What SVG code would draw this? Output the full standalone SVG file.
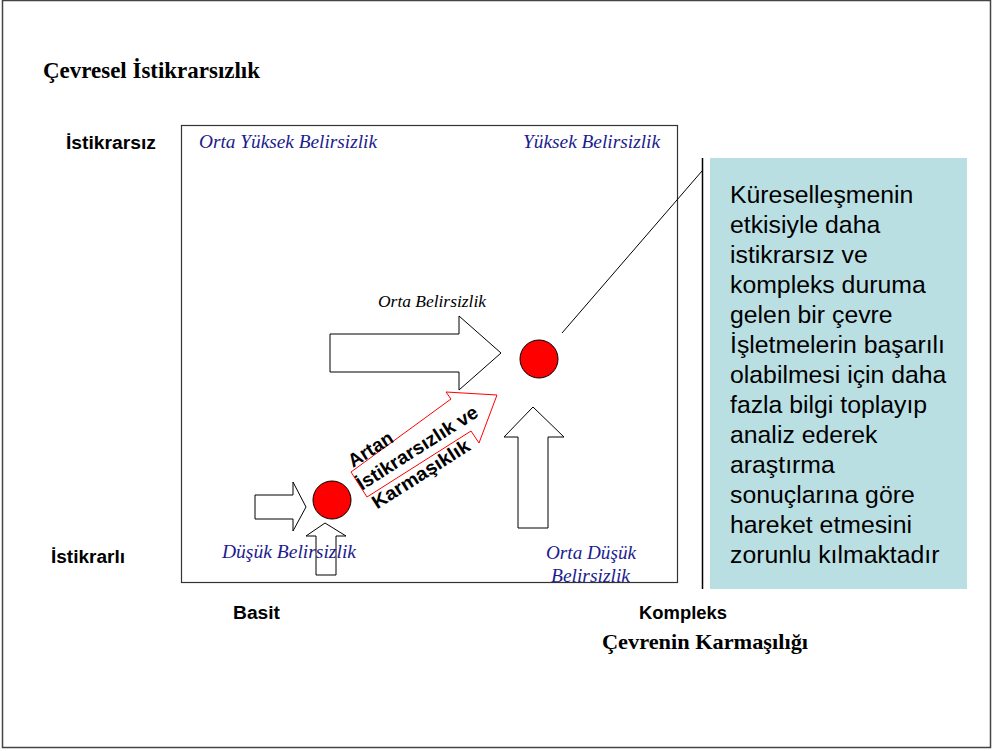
<svg xmlns="http://www.w3.org/2000/svg" width="993" height="751" viewBox="0 0 993 751">
<style>
.ser{font-family:"Liberation Serif","Times New Roman",serif}
.sans{font-family:"Liberation Sans",Arial,sans-serif}
.tb{font-weight:bold;fill:#000}
.lab{font-style:italic;fill:#1C1C8E;font-size:19px}
.arr{fill:#fff;stroke:#000;stroke-width:1}
.dot{fill:#f00;stroke:#000;stroke-width:1}
.call{font-size:24.8px;fill:#000}
</style>
<rect x="0" y="0" width="993" height="751" fill="#fff"/>
<rect x="2.5" y="0.5" width="988" height="747" fill="none" stroke="#444" stroke-width="1.5"/>

<g id="title">
<text class="ser tb" x="43" y="78" font-size="23" textLength="217" lengthAdjust="spacingAndGlyphs">Çevresel İstikrarsızlık</text>
</g>

<g id="matrix">
<rect x="181.5" y="125.5" width="496" height="457" fill="#fff" stroke="#333" stroke-width="1.2"/>
</g>

<g id="axis-labels">
<text class="sans tb" x="66" y="149" font-size="18" textLength="90" lengthAdjust="spacingAndGlyphs">İstikrarsız</text>
<text class="sans tb" x="51" y="563" font-size="18" textLength="74" lengthAdjust="spacingAndGlyphs">İstikrarlı</text>
<text class="sans tb" x="233" y="619" font-size="18" textLength="47" lengthAdjust="spacingAndGlyphs">Basit</text>
<text class="sans tb" x="639" y="619" font-size="18" textLength="88" lengthAdjust="spacingAndGlyphs">Kompleks</text>
<text class="ser tb" x="602" y="649" font-size="22" textLength="206" lengthAdjust="spacingAndGlyphs">Çevrenin Karmaşılığı</text>
</g>

<g id="connectors">
<polygon class="arr" points="330,334 459,334 459,316 501,353 459,390 459,372 330,372"/>
<polygon class="arr" points="518,528 518,437 504,437 533,407 564,437 548,437 548,528"/>
<polygon class="arr" points="255,495 293,495 293,482 306,507 293,531 293,519 255,519"/>
<polygon class="arr" points="316,575 316,536 306,536 325,523 346,536 336,536 336,575"/>
<polygon points="351,472 451,399 446,392 497,395 479,443 471,431 367,497" fill="#fff" stroke="#f00" stroke-width="1"/>
<line x1="562" y1="333" x2="702" y2="171" stroke="#000" stroke-width="1"/>
<line x1="702.5" y1="158" x2="702.5" y2="589" stroke="#000" stroke-width="1.5"/>
</g>

<g id="quadrant-labels">
<text class="ser lab" x="199" y="148" textLength="178" lengthAdjust="spacingAndGlyphs">Orta Yüksek Belirsizlik</text>
<text class="ser lab" x="523" y="148" textLength="137" lengthAdjust="spacingAndGlyphs">Yüksek Belirsizlik</text>
<text class="ser lab" x="222" y="558" textLength="134" lengthAdjust="spacingAndGlyphs">Düşük Belirsizlik</text>
<text class="ser lab" x="546" y="559" textLength="90" lengthAdjust="spacingAndGlyphs">Orta Düşük</text>
<text class="ser lab" x="551" y="582" textLength="79" lengthAdjust="spacingAndGlyphs">Belirsizlik</text>
<text class="ser" x="378" y="307" font-size="16" font-style="italic" fill="#000" textLength="108" lengthAdjust="spacingAndGlyphs">Orta Belirsizlik</text>
</g>

<g id="arrow-label" transform="translate(353,468) rotate(-32.5)">
<text class="sans tb" font-size="19" x="0" y="0">Artan</text>
<text class="sans tb" font-size="19" x="-5" y="24" textLength="140" lengthAdjust="spacingAndGlyphs">İstikrarsızlık ve</text>
<text class="sans tb" font-size="19" x="-2" y="48" textLength="112" lengthAdjust="spacingAndGlyphs">Karmaşıklık</text>
</g>

<g id="node-low">
<circle class="dot" cx="332" cy="500" r="19"/>
</g>
<g id="node-high">
<circle class="dot" cx="539" cy="359" r="19"/>
</g>

<g id="callout">
<rect x="710" y="158" width="257" height="431" fill="#BADFE3"/>
<text class="sans call" x="730" y="203">Küreselleşmenin</text>
<text class="sans call" x="730" y="233">etkisiyle daha</text>
<text class="sans call" x="730" y="263">istikrarsız ve</text>
<text class="sans call" x="730" y="293">kompleks duruma</text>
<text class="sans call" x="730" y="323">gelen bir çevre</text>
<text class="sans call" x="730" y="353">İşletmelerin başarılı</text>
<text class="sans call" x="730" y="383">olabilmesi için daha</text>
<text class="sans call" x="730" y="413">fazla bilgi toplayıp</text>
<text class="sans call" x="730" y="443">analiz ederek</text>
<text class="sans call" x="730" y="473">araştırma</text>
<text class="sans call" x="730" y="503">sonuçlarına göre</text>
<text class="sans call" x="730" y="533">hareket etmesini</text>
<text class="sans call" x="730" y="563">zorunlu kılmaktadır</text>
</g>
</svg>
